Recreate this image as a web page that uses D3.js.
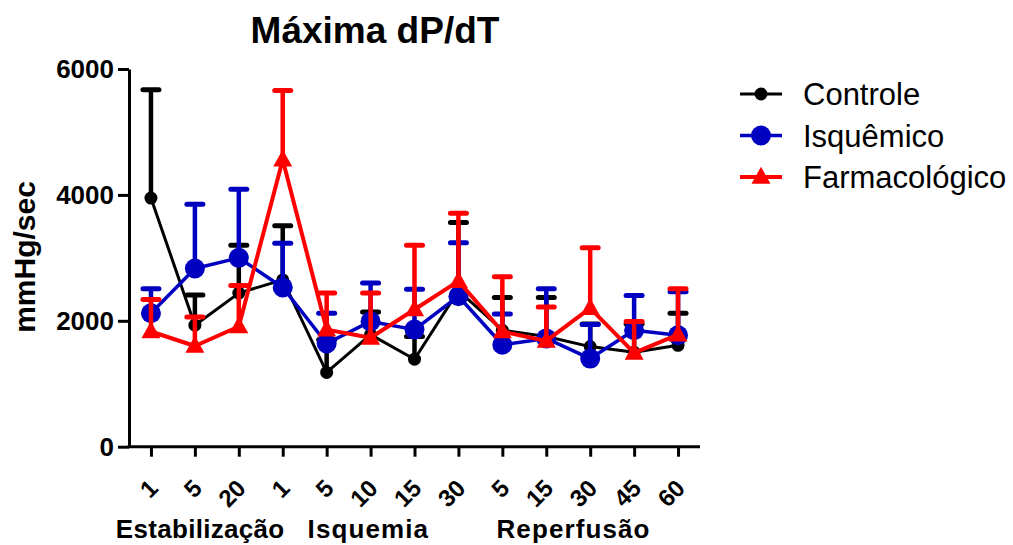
<!DOCTYPE html>
<html>
<head>
<meta charset="utf-8">
<script src="https://cdn.jsdelivr.net/npm/d3@7"></script>
<style>
  html, body { margin: 0; padding: 0; background: #fff; }
  svg { display: block; font-family: "Liberation Sans", Arial, sans-serif; }
</style>
</head>
<body>
<svg id="chart" width="1013" height="545"></svg>
<script>
// Time points (minutes) within each phase
const tickLabels = ["1", "5", "20", "1", "5", "10", "15", "30", "5", "15", "30", "45", "60"];
// Phase captions; "at" is the caption centre in category-index units
const phases = [
  { name: "Estabilização", at: 1.12 },
  { name: "Isquemia", at: 4.95 },
  { name: "Reperfusão", at: 9.62 }
];

// Mean values (mmHg/sec)
const controleMean = [3950, 1930, 2440, 2650, 1180, 1780, 1390, 2480, 1850, 1750, 1590, 1500, 1610];
const isquemicoMean = [2120, 2830, 3000, 2530, 1640, 1990, 1860, 2390, 1620, 1720, 1400, 1850, 1770];
const farmacoMean = [1830, 1600, 1910, 4560, 1860, 1730, 2180, 2630, 1830, 1680, 2200, 1490, 1780];

// Upper bound of error bars (mean + SD)
const controleUpper = [5670, 2410, 3200, 3510, 1700, 2140, 1750, 3560, 2370, 2370, 1950, 1950, 2120];
const isquemicoUpper = [2510, 3850, 4090, 3230, 2120, 2600, 2500, 3240, 2110, 2510, 1940, 2400, 2460];
const farmacoUpper = [2340, 2060, 2560, 5660, 2440, 2440, 3200, 3710, 2700, 2220, 3160, 1990, 2510];

const yTicks = [0, 2000, 4000, 6000];

const series = [
  { name: "Controle", mean: controleMean, upper: controleUpper, color: "#000000", marker: "circle", r: 6.5, lw: 3 },
  { name: "Isquêmico", mean: isquemicoMean, upper: isquemicoUpper, color: "#0000C0", marker: "circle", r: 10, lw: 3.5 },
  { name: "Farmacológico", mean: farmacoMean, upper: farmacoUpper, color: "#FF0000", marker: "triangle", r: 10, lw: 4 }
];

const svg = d3.select("#chart");

const x = d3.scalePoint()
  .domain(d3.range(tickLabels.length))
  .range([129, 700])
  .padding(0.5);

const y = d3.scaleLinear().domain([0, 6000]).range([446.7, 69]);

// Title
svg.append("text")
  .attr("x", 375).attr("y", 43)
  .attr("text-anchor", "middle")
  .attr("font-size", 37).attr("font-weight", "bold")
  .text("Máxima dP/dT");

// Y axis
const yAxis = svg.append("g")
  .attr("transform", "translate(129,0)")
  .call(d3.axisLeft(y).tickValues(yTicks).tickSize(11).tickSizeOuter(0).tickPadding(4).tickFormat(d3.format("d")));
yAxis.select(".domain").attr("stroke", "#000").attr("stroke-width", 3);
yAxis.selectAll(".tick line").attr("stroke", "#000").attr("stroke-width", 3);
yAxis.selectAll(".tick text")
  .attr("font-size", 26).attr("font-weight", "bold")
  .attr("font-family", "Liberation Sans, Arial, sans-serif")
  .attr("fill", "#000");

// X axis
const xAxis = svg.append("g")
  .attr("transform", "translate(0,446.7)")
  .call(d3.axisBottom(x).tickSize(10).tickSizeOuter(0).tickFormat(i => tickLabels[i]));
xAxis.select(".domain").attr("stroke", "#000").attr("stroke-width", 3)
  .attr("d", "M127.5,0H700");
xAxis.selectAll(".tick line").attr("stroke", "#000").attr("stroke-width", 3);
xAxis.selectAll(".tick text")
  .attr("x", 0).attr("y", 0).attr("dy", 0)
  .attr("transform", "translate(8,43) rotate(-45)")
  .attr("text-anchor", "end")
  .attr("font-size", 24).attr("font-weight", "bold")
  .attr("font-family", "Liberation Sans, Arial, sans-serif")
  .attr("fill", "#000");

// Phase captions under the axis
const posAt = v => x(0) + x.step() * v;
svg.selectAll(".phase")
  .data(phases)
  .enter().append("text")
  .attr("class", "phase")
  .attr("x", d => posAt(d.at))
  .attr("y", 538)
  .attr("text-anchor", "middle")
  .attr("font-size", 26).attr("font-weight", "bold")
  .attr("letter-spacing", (d, i) => i === 0 ? 0.3 : 1.1)
  .text(d => d.name);

// Y axis title
svg.append("text")
  .attr("transform", "translate(35,257) rotate(-90)")
  .attr("text-anchor", "middle")
  .attr("font-size", 30).attr("font-weight", "bold")
  .text("mmHg/sec");

const triangle = (cx, cy, s) => {
  const h = s * 0.9;
  return `M${cx},${cy - h * 0.6}L${cx + s / 2},${cy + h * 0.4}L${cx - s / 2},${cy + h * 0.4}Z`;
};

function drawMarker(g, cx, cy, s) {
  if (s.marker === "circle") {
    g.append("circle").attr("cx", cx).attr("cy", cy).attr("r", s.r).attr("fill", s.color);
  } else {
    g.append("path").attr("d", triangle(cx, cy, 19)).attr("fill", s.color);
  }
}

// Series: error bars, connecting line, markers
series.forEach(s => {
  const g = svg.append("g").attr("class", "series");
  const idx = d3.range(s.mean.length);

  g.selectAll(".err")
    .data(idx)
    .enter().append("line")
    .attr("x1", i => x(i)).attr("x2", i => x(i))
    .attr("y1", i => y(s.mean[i])).attr("y2", i => y(s.upper[i]))
    .attr("stroke", s.color).attr("stroke-width", 4.5);

  g.selectAll(".cap")
    .data(idx)
    .enter().append("line")
    .attr("x1", i => x(i) - 8).attr("x2", i => x(i) + 8)
    .attr("y1", i => y(s.upper[i])).attr("y2", i => y(s.upper[i]))
    .attr("stroke", s.color).attr("stroke-width", 5).attr("stroke-linecap", "round");

  g.append("path")
    .datum(idx)
    .attr("fill", "none")
    .attr("stroke", s.color).attr("stroke-width", s.lw)
    .attr("stroke-linejoin", "round")
    .attr("d", d3.line().x(i => x(i)).y(i => y(s.mean[i])));

  idx.forEach(i => drawMarker(g, x(i), y(s.mean[i]), s));
});

// Legend
const legend = svg.append("g").attr("class", "legend");
series.forEach((s, k) => {
  const cy = 94 + k * 41.5;
  const lg = legend.append("g");
  lg.append("line")
    .attr("x1", 740).attr("x2", 782).attr("y1", cy).attr("y2", cy)
    .attr("stroke", s.color).attr("stroke-width", s.lw);
  drawMarker(lg, 761, cy, s);
  lg.append("text")
    .attr("x", 803).attr("y", cy)
    .attr("dy", "0.36em")
    .attr("font-size", 31)
    .attr("fill", "#000")
    .text(s.name);
});
</script>
</body>
</html>
